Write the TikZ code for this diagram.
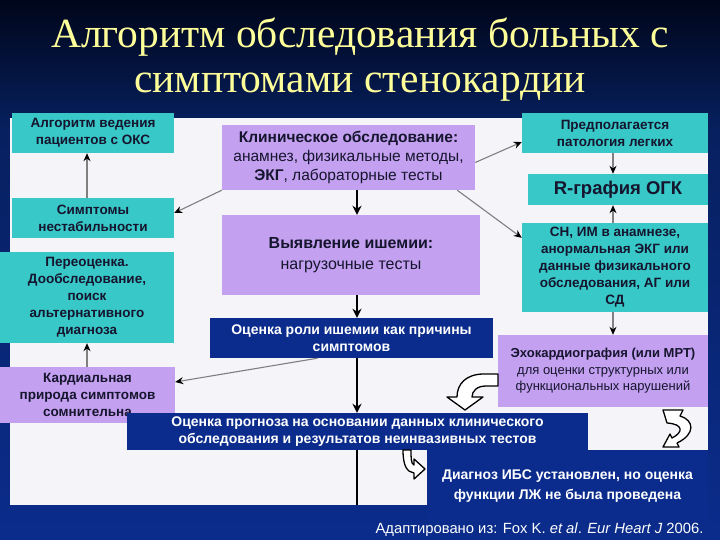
\documentclass[tikz,border=0pt]{standalone}
\usepackage{fontspec}
\setmainfont{Liberation Serif}
\setsansfont{Liberation Sans}
\usepackage{xcolor}
\usepackage{tikz}
\usetikzlibrary{arrows.meta,positioning}
\definecolor{bgtop}{HTML}{00061A}
\definecolor{bgmid}{HTML}{07205F}
\definecolor{bgbottom}{HTML}{0B2C8C}
\definecolor{panelwhite}{HTML}{F4F4F9}
\definecolor{tealfill}{HTML}{38C8C8}
\definecolor{lilacfill}{HTML}{C3A0F0}
\definecolor{navyfill}{HTML}{0B2C8C}
\definecolor{titleyellow}{HTML}{FFFF99}
\definecolor{inkdark}{HTML}{15152E}
\definecolor{wiregray}{HTML}{808080}
\tikzset{
  boxbase/.style={inner sep=2pt,align=center,font=\sffamily\bfseries\fontsize{13.5}{17}\selectfont},
  tealbox/.style={boxbase,fill=tealfill,text=inkdark},
  lilacbox/.style={boxbase,fill=lilacfill,text=inkdark},
  lilacplain/.style={boxbase,fill=lilacfill,text=inkdark,font=\sffamily\mdseries\fontsize{15.5}{19}\selectfont},
  navybox/.style={boxbase,fill=navyfill,text=white,font=\sffamily\bfseries\fontsize{14}{17}\selectfont},
  thinarrow/.style={-{Stealth[length=8pt,width=7pt,color=black]},draw=wiregray,line width=1.1pt},
  thickarrow/.style={-{Stealth[length=9pt,width=9pt]},draw=black,line width=2.4pt},
  blockarrow/.style={fill=white,draw=black,line width=1.3pt,line join=round},
}
\begin{document}
\begin{tikzpicture}[x=1pt,y=-1pt]
  \useasboundingbox (0,0) rectangle (720,540);
  % slide background and white panel
  \shade[top color=bgtop,bottom color=bgmid] (0,0) rectangle (720,130);
  \shade[top color=bgmid,bottom color=bgbottom] (0,130) rectangle (720,540);
  \fill[panelwhite] (10,118) rectangle (708,505);
  \node[font=\fontsize{41.5}{45}\selectfont,text=titleyellow,align=center] (title) at (360,60) {Алгоритм обследования больных с\\симптомами стенокардии};
  % left column
  \node[tealbox,minimum width=162,minimum height=40] (okc) at (93,133) {Алгоритм ведения\\пациентов с ОКС};
  \node[tealbox,minimum width=162,minimum height=40] (unstable) at (93,218) {Симптомы\\нестабильности};
  \node[tealbox,minimum width=174,minimum height=91] (reassess) at (87,297.5) {Переоценка.\\Дообследование,\\поиск\\альтернативного\\диагноза};
  \node[lilacbox,minimum width=175,minimum height=56] (doubtful) at (87.5,395) {Кардиальная\\природа симптомов\\сомнительна};
  % middle column
  \node[lilacplain,minimum width=253,minimum height=65] (clinical) at (348.5,157.5) {\textbf{Клиническое обследование:}\\анамнез, физикальные методы,\\\textbf{ЭКГ}, лабораторные тесты};
  \node[lilacplain,minimum width=258,minimum height=80,font=\sffamily\mdseries\fontsize{16}{21}\selectfont] (ischemia) at (351,255) {\textbf{Выявление ишемии:}\\нагрузочные тесты};
  \node[navybox,minimum width=283,minimum height=40] (role) at (351.5,338) {Оценка роли ишемии как причины\\симптомов};
  \node[navybox,minimum width=461,minimum height=37] (prognosis) at (357.5,431.5) {Оценка прогноза на основании данных клинического\\обследования и результатов неинвазивных тестов};
  % right column
  \node[tealbox,minimum width=186,minimum height=40] (lungs) at (615,133) {Предполагается\\патология легких};
  \node[tealbox,minimum width=180,minimum height=31,font=\sffamily\bfseries\fontsize{18.5}{20}\selectfont] (xray) at (618,189.5) {R-графия ОГК};
  \node[tealbox,minimum width=186,minimum height=89] (history) at (615,267.5) {СН, ИМ в анамнезе,\\анормальная ЭКГ или\\данные физикального\\обследования, АГ или\\СД};
  \node[lilacplain,minimum width=210,minimum height=72,font=\sffamily\mdseries\fontsize{13}{16.5}\selectfont] (echo) at (603,371) {\textbf{Эхокардиография (или МРТ)}\\для оценки структурных или\\функциональных нарушений};
  \node[navybox,minimum width=281,minimum height=72,fill=bgbottom,font=\sffamily\bfseries\fontsize{14}{20}\selectfont] (diagnosis) at (567.5,486) {Диагноз ИБС установлен, но оценка\\функции ЛЖ не была проведена};
  \node[anchor=east,text=white,font=\sffamily\fontsize{14.8}{16}\selectfont] (source) at (707,530) {Адаптировано из: Fox K. \textit{et al}. \textit{Eur Heart J} 2006.};
  % connectors
  \coordinate (leftcol) at (87,0);
  \coordinate (spine) at (357,0);
  \coordinate (rightcol) at (613,0);
  \coordinate (panelfoot) at (357,505);
  \draw[thinarrow] (unstable.north -| leftcol) -- (okc.south -| leftcol);
  \draw[thinarrow] (doubtful.north -| leftcol) -- (reassess.south -| leftcol);
  \draw[thinarrow] (clinical.south west) -- ([yshift=5]unstable.east);
  \draw[thinarrow] ([yshift=-5]clinical.east) -- ([yshift=-9]lungs.west);
  \draw[thinarrow] ([xshift=-18]clinical.south east) -- ([yshift=-15]history.north west);
  \draw[thinarrow] ([xshift=-34]role.south) -- ([yshift=13]doubtful.east);
  \draw[thinarrow] (lungs.south -| rightcol) -- (xray.north -| rightcol);
  \draw[thinarrow] (history.north -| rightcol) -- (xray.south -| rightcol);
  \draw[thinarrow] (history.south -| rightcol) -- (echo.north -| rightcol);
  \draw[thickarrow] (clinical.south -| spine) -- (ischemia.north -| spine);
  \draw[thickarrow] (ischemia.south -| spine) -- (role.north -| spine);
  \draw[thickarrow] (role.south -| spine) -- (prognosis.north -| spine);
  \draw[line width=1.2pt] (prognosis.south -| spine) -- (panelfoot);
  % curled block arrows
  \draw[blockarrow] (498,374) -- (484,374) .. controls (466,374) and (457,384) .. (457,397) -- (447,397) -- (465,410) -- (483,397) -- (472,397) .. controls (472,391) and (477,386) .. (486,386) -- (498,386) -- cycle;
  \draw[blockarrow] (663,410) -- (683,410) -- (680,416) .. controls (694,420) and (696,434) .. (677,443) -- (679,447) -- (663,447) -- (670,434) -- (672,438) .. controls (684,432) and (683,424) .. (667,423) -- cycle;
  \draw[blockarrow] (403,450) .. controls (403,466) and (407,472) .. (414,473) -- (414,479) -- (425,469) -- (414,459) -- (414,465) .. controls (411,464) and (411,458) .. (411,450) -- cycle;
\end{tikzpicture}
\end{document}
